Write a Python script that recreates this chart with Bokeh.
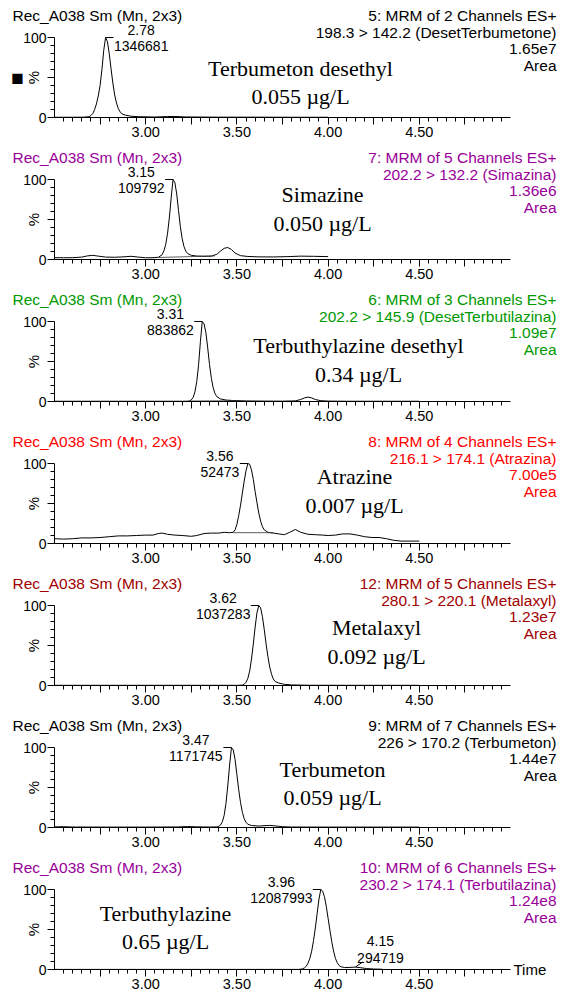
from bokeh.plotting import figure
from bokeh.layouts import column
from bokeh.models import Label, FixedTicker, Range1d, LinearAxis
from bokeh.embed import file_html
from bokeh.resources import INLINE

# ---------------- data ----------------
sample_header = "Rec_A038 Sm (Mn, 2x3)"
channel_lines = ["5: MRM of 2 Channels ES+", "7: MRM of 5 Channels ES+", "6: MRM of 3 Channels ES+",
                 "8: MRM of 4 Channels ES+", "12: MRM of 5 Channels ES+", "9: MRM of 7 Channels ES+",
                 "10: MRM of 6 Channels ES+"]
transitions = ["198.3 > 142.2 (DesetTerbumetone)", "202.2 > 132.2 (Simazina)",
               "202.2 > 145.9 (DesetTerbutilazina)", "216.1 > 174.1 (Atrazina)",
               "280.1 > 220.1 (Metalaxyl)", "226 > 170.2 (Terbumeton)", "230.2 > 174.1 (Terbutilazina)"]
max_intensity = ["1.65e7", "1.36e6", "1.09e7", "7.00e5", "1.23e7", "1.44e7", "1.24e8"]
compounds = ["Terbumeton desethyl", "Simazine", "Terbuthylazine desethyl", "Atrazine",
             "Metalaxyl", "Terbumeton", "Terbuthylazine"]
concentrations = ["0.055 µg/L", "0.050 µg/L", "0.34 µg/L", "0.007 µg/L",
                  "0.092 µg/L", "0.059 µg/L", "0.65 µg/L"]
peak_rt = [2.78, 3.15, 3.31, 3.56, 3.62, 3.47, 3.96]
peak_area = ["1346681", "109792", "883862", "52473", "1037283", "1171745", "12087993"]
minor_peak_rt = 4.15
minor_peak_height = 3.0
minor_peak_area = "294719"

x_tick_values = [3.0, 3.5, 4.0, 4.5]
x_tick_labels = ["3.00", "3.50", "4.00", "4.50"]

t1 = [2.50, 2.60, 2.66, 2.69, 2.70, 2.71, 2.72, 2.73, 2.74, 2.75, 2.76, 2.77, 2.78, 2.79, 2.80, 2.81, 2.82,
      2.83, 2.84, 2.85, 2.86, 2.87, 2.89, 2.92, 2.96, 3.05, 3.12, 3.16, 3.22, 3.40, 3.60, 3.80, 4.00]
i1 = [0.3, 0.3, 0.4, 1.0, 2.5, 5, 10, 17, 27, 40, 60, 84, 100, 95, 80, 61, 43,
      28, 18, 11, 7, 4.5, 2.8, 1.6, 1.0, 0.6, 1.2, 1.3, 0.7, 0.4, 0.4, 0.3, 0.3]

t2 = [2.50, 2.55, 2.60, 2.65, 2.68, 2.71, 2.74, 2.78, 2.83, 2.87, 2.92, 2.96, 3.00, 3.04, 3.07, 3.09,
      3.10, 3.11, 3.12, 3.13, 3.14, 3.15, 3.16, 3.17, 3.18, 3.19, 3.20, 3.21, 3.22, 3.23, 3.25, 3.28,
      3.32, 3.36, 3.39, 3.41, 3.43, 3.45, 3.47, 3.49, 3.52, 3.56, 3.62, 3.70, 3.78, 3.85, 3.92, 4.00]
i2 = [2.3, 2.2, 2.3, 3.0, 4.5, 5.2, 4.2, 3.0, 2.8, 3.2, 4.0, 3.0, 2.2, 2.2, 2.8, 6,
      11, 19, 33, 53, 78, 100, 96, 82, 61, 41, 26, 16, 10.5, 7.5, 5.2, 4.3,
      4.0, 4.2, 6.5, 10.5, 14, 15, 12.5, 8, 4.8, 3.8, 3.3, 3.2, 3.6, 4.2, 4.0, 3.6]
bl2_t = [3.07, 3.38]
bl2_i = [2.5, 4.5]

t3 = [2.50, 2.80, 3.00, 3.20, 3.23, 3.24, 3.25, 3.26, 3.27, 3.28, 3.29, 3.30, 3.31, 3.32, 3.33, 3.34,
      3.35, 3.36, 3.37, 3.38, 3.39, 3.41, 3.44, 3.48, 3.55, 3.65, 3.75, 3.82, 3.85, 3.87, 3.89, 3.91,
      3.93, 3.96, 4.00, 4.10, 4.30, 4.50]
i3 = [0.3, 0.3, 0.3, 0.3, 0.4, 0.8, 2, 5, 12, 25, 46, 75, 100, 97, 86, 67,
      46, 29, 17, 10, 6, 3.2, 1.8, 1.2, 0.7, 0.5, 0.4, 0.8, 2.5, 4.5, 5.5, 4.5,
      2.5, 1.0, 0.5, 0.3, 0.3, 0.3]
bl3_t = [3.24, 3.52]
bl3_i = [0.6, 1.0]

t4 = [2.50, 2.55, 2.60, 2.65, 2.70, 2.75, 2.80, 2.85, 2.90, 2.95, 3.00, 3.04, 3.07, 3.09, 3.12, 3.16,
      3.20, 3.25, 3.28, 3.32, 3.36, 3.40, 3.43, 3.46, 3.48, 3.49, 3.50, 3.51, 3.52, 3.53, 3.54, 3.55,
      3.56, 3.57, 3.58, 3.59, 3.60, 3.61, 3.62, 3.63, 3.64, 3.65, 3.67, 3.70, 3.73, 3.76, 3.79, 3.82,
      3.85, 3.89, 3.93, 3.97, 4.00, 4.04, 4.08, 4.12, 4.16, 4.20, 4.24, 4.28, 4.32, 4.36, 4.40, 4.45, 4.50]
i4 = [6, 5.5, 6, 7, 7, 7.5, 8.5, 9.5, 9.5, 10, 10.5, 10.5, 12.5, 13, 11.5, 10.5,
      10, 9, 10, 12.5, 13, 13, 14, 13.5, 14, 17, 24, 35, 48, 63, 78, 91,
      100, 99, 92, 80, 65, 51, 38, 28, 21, 17, 14, 13, 12, 11, 14, 17.5,
      14, 11.5, 11, 10.5, 10, 10.5, 12, 12, 10.5, 8.5, 7.5, 7.5, 6, 4, 3, 3, 3]
bl4_t = [3.48, 3.70]
bl4_i = [13.5, 13.5]

t5 = [2.50, 3.00, 3.50, 3.53, 3.54, 3.55, 3.56, 3.57, 3.58, 3.59, 3.60, 3.61, 3.62, 3.63, 3.64, 3.65,
      3.66, 3.67, 3.68, 3.69, 3.70, 3.71, 3.73, 3.76, 3.80, 3.90, 4.20, 4.50]
i5 = [0.2, 0.2, 0.2, 0.5, 1.5, 4, 9, 18, 33, 52, 73, 91, 100, 97, 86, 70,
      52, 36, 23, 14, 8, 5, 3, 1.5, 0.7, 0.3, 0.2, 0.2]

t6 = [2.50, 2.55, 2.60, 2.80, 3.00, 3.18, 3.23, 3.28, 3.35, 3.39, 3.40, 3.41, 3.42, 3.43, 3.44, 3.45,
      3.46, 3.47, 3.48, 3.49, 3.50, 3.51, 3.52, 3.53, 3.54, 3.55, 3.56, 3.58, 3.62, 3.66, 3.68, 3.71,
      3.75, 3.80, 4.00, 4.50]
i6 = [0.8, 1.0, 0.6, 0.5, 0.5, 0.7, 1.2, 0.8, 0.6, 0.7, 1.5, 3, 7, 15, 30, 52,
      78, 100, 97, 85, 66, 47, 31, 19, 11, 6.5, 4, 2.5, 1.8, 2.5, 2.6, 2.0,
      1.0, 0.6, 0.5, 0.5]

t7 = [2.50, 3.00, 3.50, 3.84, 3.86, 3.87, 3.88, 3.89, 3.90, 3.91, 3.92, 3.93, 3.94, 3.95, 3.96, 3.97,
      3.98, 3.99, 4.00, 4.01, 4.02, 4.03, 4.04, 4.05, 4.06, 4.07, 4.09, 4.12, 4.15, 4.18, 4.21, 4.25, 4.30]
i7 = [0.1, 0.1, 0.1, 0.1, 0.8, 2, 4, 8, 14, 23, 36, 52, 70, 88, 100, 98,
      91, 79, 64, 49, 35, 23, 14, 8.5, 5, 3.5, 2.5, 2.6, 3, 2.2, 1.2, 0.6, 0.3]

traces_t = [t1, t2, t3, t4, t5, t6, t7]
traces_i = [i1, i2, i3, i4, i5, i6, i7]
baselines = {1: (bl2_t, bl2_i), 2: (bl3_t, bl3_i), 3: (bl4_t, bl4_i)}

# ---------------- styling / layout ----------------
header_colors = ["#000000", "#990099", "#009900", "#FF0000", "#A00000", "#000000", "#990099"]
SANS = "Liberation Sans"
SERIF = "Liberation Serif"
HEADER_SIZE = "15.5px"
W, H = 561, 142
AX_LEFT_PX, AX_RIGHT_PX = 54, 510      # pixel position of 2.5 and 5.0
XMIN, XMAX = 2.5, 5.0
PXM = (AX_RIGHT_PX - AX_LEFT_PX) / (XMAX - XMIN)
ZERO_PY = 117                            # pixel row of 0 % inside a panel
PX100 = 80.0                             # pixels for 100 %

# name label positions: (center px, line1 py, line2 py)
name_pos = [(300, 68, 96), (322, 52, 81), (358, 61, 90), (354, 50, 79),
            (376, 59, 88), (332, 59, 87), (165, 61, 89)]
peak_side = [1, -1, -1, -1, -1, -1, -1]


def X(px):
    return XMIN + (px - AX_LEFT_PX) / PXM


def Y(py):
    return (ZERO_PY - py) / PX100 * 100.0


def dx(px):
    return px / PXM


def dy(px):
    return px / PX100 * 100.0


def lab(p, x, y, text, size="15px", color="black", align="left", font=SANS, angle=0.0):
    p.add_layout(Label(x=x, y=y, text=text, text_font=font, text_font_size=size,
                       text_color=color, text_align=align, text_baseline="middle", angle=angle))


x_major = [2.75, 3.0, 3.25, 3.5, 3.75, 4.0, 4.25, 4.5, 4.75]
x_minor = [round(2.5 + 0.05 * k, 2) for k in range(1, 50)]
x_over = {v: "" for v in x_major}
for v, s in zip(x_tick_values, x_tick_labels):
    x_over[v] = s

figs = []
for k in range(7):
    p = figure(width=W, height=H, x_range=Range1d(X(0), X(W)), y_range=Range1d(Y(H), Y(0)),
               output_backend="svg", toolbar_location=None,
               x_axis_location=None, y_axis_location=None,
               min_border_left=0, min_border_right=0, min_border_top=0, min_border_bottom=0)
    p.outline_line_color = None
    p.xgrid.visible = False
    p.ygrid.visible = False
    p.background_fill_color = "white"

    # x axis (fixed at 0 %)
    xa = LinearAxis(fixed_location=0, bounds=(XMIN, XMAX),
                    ticker=FixedTicker(ticks=x_major, minor_ticks=x_minor))
    xa.major_label_overrides = x_over
    xa.major_tick_out = 7
    xa.major_tick_in = 0
    xa.minor_tick_out = 4
    xa.minor_tick_in = 0
    xa.major_label_standoff = 2
    xa.major_label_text_font = SANS
    xa.major_label_text_font_size = "14.5px"
    xa.major_label_text_color = "black"
    xa.axis_line_color = "black"
    p.add_layout(xa, "below")

    # y axis (fixed at start of time range)
    ya = LinearAxis(fixed_location=XMIN, bounds=(0, 100),
                    ticker=FixedTicker(ticks=[0, 50, 100], minor_ticks=[10, 20, 30, 40, 60, 70, 80, 90]))
    ya.major_label_overrides = {50: ""}
    ya.major_tick_out = 7
    ya.major_tick_in = 0
    ya.minor_tick_out = 4
    ya.minor_tick_in = 0
    ya.major_label_standoff = 1
    ya.major_label_text_font = SANS
    ya.major_label_text_font_size = "14px"
    ya.major_label_text_color = "black"
    ya.axis_line_color = "black"
    p.add_layout(ya, "left")

    # trace
    p.line(traces_t[k], traces_i[k], line_color="black", line_width=1)
    if k in baselines:
        bt, bi = baselines[k]
        p.line(bt, bi, line_color="#333333", line_width=0.8)

    col = header_colors[k]
    lab(p, X(12), Y(15), sample_header, size=HEADER_SIZE, color=col)
    right_lines = [channel_lines[k], transitions[k], max_intensity[k], "Area"]
    for j, s in enumerate(right_lines):
        lab(p, X(556), Y(15 + 16.5 * j), s, size=HEADER_SIZE, color=col, align="right")

    # % label
    lab(p, X(33), 50, "%", size="15px", align="center", angle=1.5708)

    # compound name / concentration
    cx, y1, y2 = name_pos[k]
    lab(p, X(cx), Y(y1), compounds[k], size="22px", align="center", font=SERIF)
    lab(p, X(cx), Y(y2), concentrations[k], size="22px", align="center", font=SERIF)

    # peak label
    rt = peak_rt[k]
    side = peak_side[k]
    area = peak_area[k]
    wtxt = max(len(area), 4) * 7.6
    gap = 9
    cxl = rt + side * dx(gap + wtxt / 2)
    p.line([rt, rt + side * dx(gap - 1)], [100, 100], line_color="black", line_width=1)
    lab(p, cxl, 100 + dy(8), "%.2f" % rt, size="14px", align="center")
    lab(p, cxl, 100 - dy(8), area, size="14px", align="center")

    if k == 6:
        mx = minor_peak_rt
        my = minor_peak_height
        p.line([mx, mx + dx(7)], [my, my + dy(5)], line_color="black", line_width=1)
        lab(p, mx + dx(25), my + dy(26), "%.2f" % mx, size="14px", align="center")
        lab(p, mx + dx(25), my + dy(9), minor_peak_area, size="14px", align="center")
        lab(p, X(513), 0, "Time", size="15px")
    if k == 0:
        lab(p, X(17), Y(77), "\u25A0", size="21px", align="center")

    figs.append(p)

layout = column(*figs, spacing=0)
open("out.html", "w").write(file_html(layout, INLINE))
